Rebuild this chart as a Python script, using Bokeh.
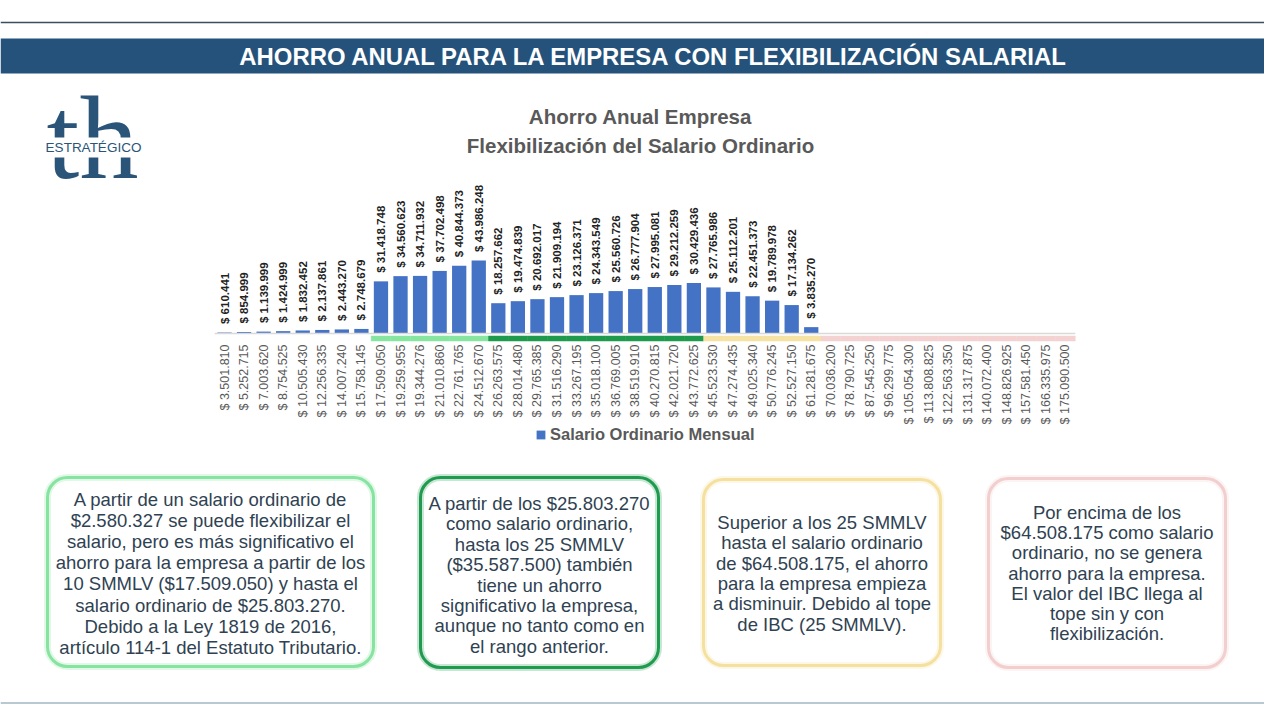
from math import pi
from bokeh.plotting import figure
from bokeh.models import Range1d, ColumnDataSource, Legend, LegendItem, BoxAnnotation
from bokeh.embed import file_html
from bokeh.resources import INLINE
from bokeh.core.properties import value

# ---------------- data ----------------
salario = [
    "$ 3.501.810", "$ 5.252.715", "$ 7.003.620", "$ 8.754.525", "$ 10.505.430",
    "$ 12.256.335", "$ 14.007.240", "$ 15.758.145", "$ 17.509.050", "$ 19.259.955",
    "$ 19.344.276", "$ 21.010.860", "$ 22.761.765", "$ 24.512.670", "$ 26.263.575",
    "$ 28.014.480", "$ 29.765.385", "$ 31.516.290", "$ 33.267.195", "$ 35.018.100",
    "$ 36.769.005", "$ 38.519.910", "$ 40.270.815", "$ 42.021.720", "$ 43.772.625",
    "$ 45.523.530", "$ 47.274.435", "$ 49.025.340", "$ 50.776.245", "$ 52.527.150",
    "$ 61.281.675", "$ 70.036.200", "$ 78.790.725", "$ 87.545.250", "$ 96.299.775",
    "$ 105.054.300", "$ 113.808.825", "$ 122.563.350", "$ 131.317.875", "$ 140.072.400",
    "$ 148.826.925", "$ 157.581.450", "$ 166.335.975", "$ 175.090.500",
]
ahorro = [
    610441, 854999, 1139999, 1424999, 1832452,
    2137861, 2443270, 2748679, 31418748, 34560623,
    34711932, 37702498, 40844373, 43986248, 18257662,
    19474839, 20692017, 21909194, 23126371, 24343549,
    25560726, 26777904, 27995081, 29212259, 30429436,
    27765986, 25112201, 22451373, 19789978, 17134262,
    3835270, 0, 0, 0, 0,
    0, 0, 0, 0, 0,
    0, 0, 0, 0,
]
tramo = [None] * 8 + ["r1"] * 6 + ["r2"] * 11 + ["r3"] * 6 + ["r4"] * 13
tramo_colores = {"r1": "#86e6a0", "r2": "#1e9a4c", "r3": "#f6e3a3", "r4": "#f5d2d2"}

serie = "Salario Ordinario Mensual"
titulo_1 = "Ahorro Anual Empresa"
titulo_2 = "Flexibilización del Salario Ordinario"
encabezado = "AHORRO ANUAL PARA LA EMPRESA CON FLEXIBILIZACIÓN SALARIAL"

cajas = [
    ["A partir de un salario ordinario de", "$2.580.327 se puede flexibilizar el",
     "salario, pero es más significativo el", "ahorro para la empresa a partir de los",
     "10 SMMLV ($17.509.050) y hasta el", "salario ordinario de $25.803.270.",
     "Debido a la Ley 1819 de 2016,", "artículo 114-1 del Estatuto Tributario."],
    ["A partir de los $25.803.270", "como salario ordinario,", "hasta los 25 SMMLV",
     "($35.587.500) también", "tiene un ahorro", "significativo la empresa,",
     "aunque no tanto como en", "el rango anterior."],
    ["Superior a los 25 SMMLV", "hasta el salario ordinario", "de $64.508.175, el ahorro",
     "para la empresa empieza", "a disminuir. Debido al tope", "de IBC (25 SMMLV)."],
    ["Por encima de los", "$64.508.175 como salario", "ordinario, no se genera",
     "ahorro para la empresa.", "El valor del IBC llega al", "tope sin y con",
     "flexibilización."],
]
caja_colores = ["#86e3a0", "#1f9a4e", "#f4e19f", "#f2cece"]

FONT = "Liberation Sans"
W, H = 1264, 704
BASE = 333                  # page y of the zero line
PX = 43986248 / 73.0        # value per pixel
PITCH = 19.558              # px per category
FIRST = 224                 # page x of first category centre

idx = list(range(len(salario)))
p = figure(width=W, height=H, output_backend="svg", toolbar_location=None,
           x_range=Range1d(-FIRST / PITCH, (W - FIRST) / PITCH),
           y_range=Range1d(-(H - BASE) * PX, BASE * PX),
           min_border=0, x_axis_location=None, y_axis_location=None)
p.grid.visible = False
p.outline_line_color = None
p.extra_x_ranges = {"px": Range1d(0, W)}
p.extra_y_ranges = {"px": Range1d(-H, 0)}
PXR = dict(x_range_name="px", y_range_name="px")

# header
p.segment(x0=[0], y0=[-22], x1=[W], y1=[-22], line_color="#3b4e5d", line_width=1.3, **PXR)
p.quad(left=[0], right=[W], top=[-38], bottom=[-73], fill_color="#24527a",
       line_color=None, **PXR)
p.text(x=[654], y=[-56], text=[encabezado], text_font=value(FONT), text_font_size="23.9px",
       text_font_style="bold", text_color="white", text_align="center",
       text_baseline="middle", **PXR)

# logo
p.text(x=[92], y=[-137.5], text=["th"], text_font=value("Liberation Serif"),
       text_font_size="118px", text_color="#2a5478", text_align="center",
       text_baseline="middle", **PXR)
p.quad(left=[36], right=[150], top=[-137], bottom=[-157], fill_color="white",
       line_color=None, **PXR)
p.text(x=[93], y=[-147], text=["ESTRATÉGICO"], text_font=value(FONT),
       text_font_size="13.5px", text_color="#2a5478", text_align="center",
       text_baseline="middle", **PXR)

# chart titles
p.text(x=[640, 640], y=[-116, -145], text=[titulo_1, titulo_2], text_font=value(FONT),
       text_font_size="20.5px", text_font_style="bold", text_color="#595959",
       text_align="center", text_baseline="middle", **PXR)

# bars
src = ColumnDataSource(dict(x=idx, salario=salario, ahorro=ahorro))
bars = p.vbar(x="x", top="ahorro", width=0.73, source=src,
              fill_color="#4472C4", line_color=None)

lab = ColumnDataSource(dict(
    x=[i for i, v in zip(idx, ahorro) if v > 0],
    y=[v + 8.5 * PX for v in ahorro if v > 0],
    txt=["$ " + f"{v:,}".replace(",", ".") for v in ahorro if v > 0],
))
p.text(x="x", y="y", text="txt", source=lab, angle=pi / 2,
       text_align="left", text_baseline="middle", text_font=value(FONT),
       text_font_size="11.5px", text_font_style="bold", text_color="#222222")

# zero line and range bands
p.segment(x0=[idx[0] - 0.5], y0=[0], x1=[idx[-1] + 0.5], y1=[0],
          line_color="#d9d9d9", line_width=1.5)
band = ColumnDataSource(dict(
    x=[i for i, t in zip(idx, tramo) if t],
    color=[tramo_colores[t] for t in tramo if t],
))
p.vbar(x="x", bottom=-7.5 * PX, top=-2.5 * PX, width=1.0, source=band,
       fill_color="color", line_color="color", line_width=0.5)

# category labels (the axis tick labels), one per category
p.text(x="x", y=-11 * PX, text="salario", source=src, angle=pi / 2,
       text_align="right", text_baseline="middle", text_font=value(FONT),
       text_font_size="12.5px", text_color="#595959")

legend = Legend(items=[LegendItem(label=serie, renderers=[bars])], location=(535, H - 444),
                orientation="horizontal", border_line_color=None, background_fill_alpha=0,
                label_text_font=FONT, label_text_font_size="16.5px",
                label_text_font_style="bold", label_text_color="#595959",
                glyph_width=11, glyph_height=11, margin=0, padding=2, label_standoff=4)
p.add_layout(legend)

# text boxes
geom = [(47, 373, 477, 666, 499, 21.1),
        (420, 658, 477, 667, 503, 20.4),
        (703, 940, 479, 665, 522, 20.3),
        (988, 1225, 478, 667, 512, 20.2)]
for lines, col, (l, r, t, b, y0, dy) in zip(cajas, caja_colores, geom):
    p.add_layout(BoxAnnotation(left=l, right=r, top=-t, bottom=-b, border_radius=20,
                               fill_color="white", fill_alpha=1.0, line_color=col,
                               line_alpha=0.25, line_width=7, level="underlay", **PXR))
    p.add_layout(BoxAnnotation(left=l, right=r, top=-t, bottom=-b, border_radius=20,
                               fill_alpha=0.0, line_color=col, line_alpha=1.0,
                               line_width=3, level="underlay", **PXR))
    cx = (l + r) / 2
    p.text(x=[cx] * len(lines), y=[-(y0 + i * dy) for i in range(len(lines))], text=lines,
           text_font=value(FONT), text_font_size="18.5px", text_color="#2f4252",
           text_align="center", text_baseline="middle", **PXR)
p.segment(x0=[0], y0=[-702.5], x1=[W], y1=[-702.5], line_color="#a3b6c2", line_width=1.5,
          **PXR)

open("out.html", "w").write(file_html(p, INLINE))
